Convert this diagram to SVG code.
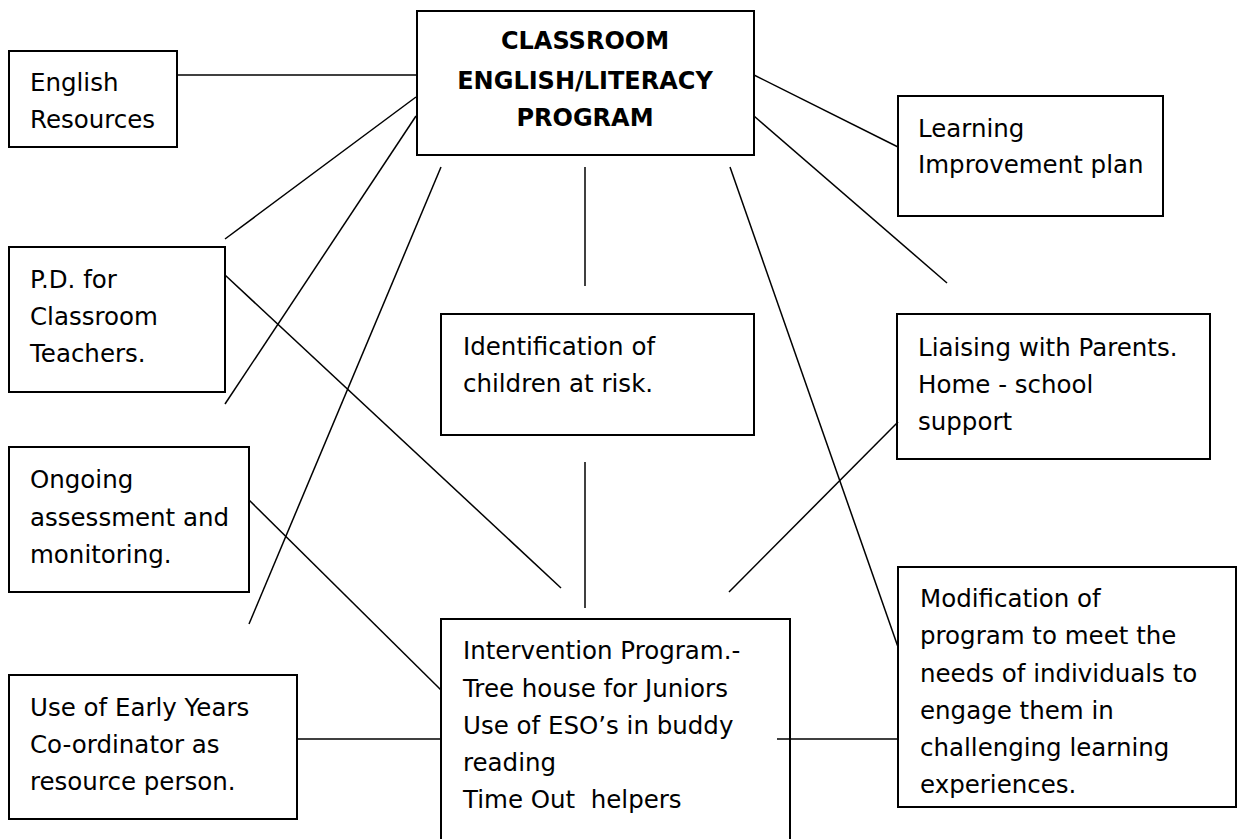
<svg xmlns="http://www.w3.org/2000/svg" width="1238" height="839" viewBox="0 0 1238 839">
<style>
.box{fill:#fff;stroke:#000;stroke-width:2}
.t{font-family:"DejaVu Sans","Liberation Sans",sans-serif;font-size:24.5px;fill:#000}
.tb{font-family:"DejaVu Sans","Liberation Sans",sans-serif;font-size:24px;font-weight:bold;fill:#000;text-anchor:middle}
.c line{stroke:#000;stroke-width:1.5}
</style>
<rect width="1238" height="839" fill="#fff"/>
<g id="center">
<rect class="box" x="417" y="11" width="337" height="144"/>
<text class="tb" x="585" y="49">CLASSROOM</text>
<text class="tb" x="585" y="89">ENGLISH/LITERACY</text>
<text class="tb" x="585" y="126">PROGRAM</text>
</g>
<g id="english-resources">
<rect class="box" x="9" y="51" width="168" height="96"/>
<text class="t" x="30" y="91">English</text>
<text class="t" x="30" y="128">Resources</text>
</g>
<g id="pd">
<rect class="box" x="9" y="247" width="216" height="145"/>
<text class="t" x="30" y="288">P.D. for</text>
<text class="t" x="30" y="325">Classroom</text>
<text class="t" x="30" y="362">Teachers.</text>
</g>
<g id="identification">
<rect class="box" x="441" y="314" width="313" height="121"/>
<text class="t" x="463" y="355">Identification of</text>
<text class="t" x="463" y="392">children at risk.</text>
</g>
<g id="learning">
<rect class="box" x="898" y="96" width="265" height="120"/>
<text class="t" x="918" y="137">Learning</text>
<text class="t" x="918" y="173">Improvement plan</text>
</g>
<g id="liaising">
<rect class="box" x="897" y="314" width="313" height="145"/>
<text class="t" x="918" y="356">Liaising with Parents.</text>
<text class="t" x="918" y="393">Home - school</text>
<text class="t" x="918" y="430">support</text>
</g>
<g id="ongoing">
<rect class="box" x="9" y="447" width="240" height="145"/>
<text class="t" x="30" y="488">Ongoing</text>
<text class="t" x="30" y="526">assessment and</text>
<text class="t" x="30" y="563">monitoring.</text>
</g>
<g id="early-years">
<rect class="box" x="9" y="675" width="288" height="144"/>
<text class="t" x="30" y="716">Use of Early Years</text>
<text class="t" x="30" y="753">Co-ordinator as</text>
<text class="t" x="30" y="790">resource person.</text>
</g>
<g id="intervention">
<rect class="box" x="441" y="619" width="349" height="240"/>
<text class="t" x="463" y="659">Intervention Program.-</text>
<text class="t" x="463" y="697">Tree house for Juniors</text>
<text class="t" x="463" y="734">Use of ESO’s in buddy</text>
<text class="t" x="463" y="771">reading</text>
<text class="t" x="463" y="808" xml:space="preserve">Time Out  helpers</text>
</g>
<g id="modification">
<rect class="box" x="898" y="567" width="338" height="240"/>
<text class="t" x="920" y="607">Modification of</text>
<text class="t" x="920" y="644">program to meet the</text>
<text class="t" x="920" y="682">needs of individuals to</text>
<text class="t" x="920" y="719">engage them in</text>
<text class="t" x="920" y="756">challenging learning</text>
<text class="t" x="920" y="793">experiences.</text>
</g>
<g class="c" id="connectors">
<line x1="177" y1="75" x2="417" y2="75"/>
<line x1="416" y1="97" x2="225" y2="239"/>
<line x1="416" y1="116" x2="225" y2="404"/>
<line x1="441" y1="167" x2="249" y2="624"/>
<line x1="225" y1="275" x2="561" y2="588"/>
<line x1="585" y1="167" x2="585" y2="286"/>
<line x1="585" y1="462" x2="585" y2="608"/>
<line x1="754" y1="75" x2="898" y2="147"/>
<line x1="754" y1="116" x2="947" y2="283"/>
<line x1="730" y1="167" x2="898" y2="647"/>
<line x1="898" y1="422" x2="729" y2="592"/>
<line x1="249" y1="500" x2="441" y2="690"/>
<line x1="297" y1="739" x2="441" y2="739"/>
<line x1="777" y1="739" x2="898" y2="739"/>
</g>
</svg>
